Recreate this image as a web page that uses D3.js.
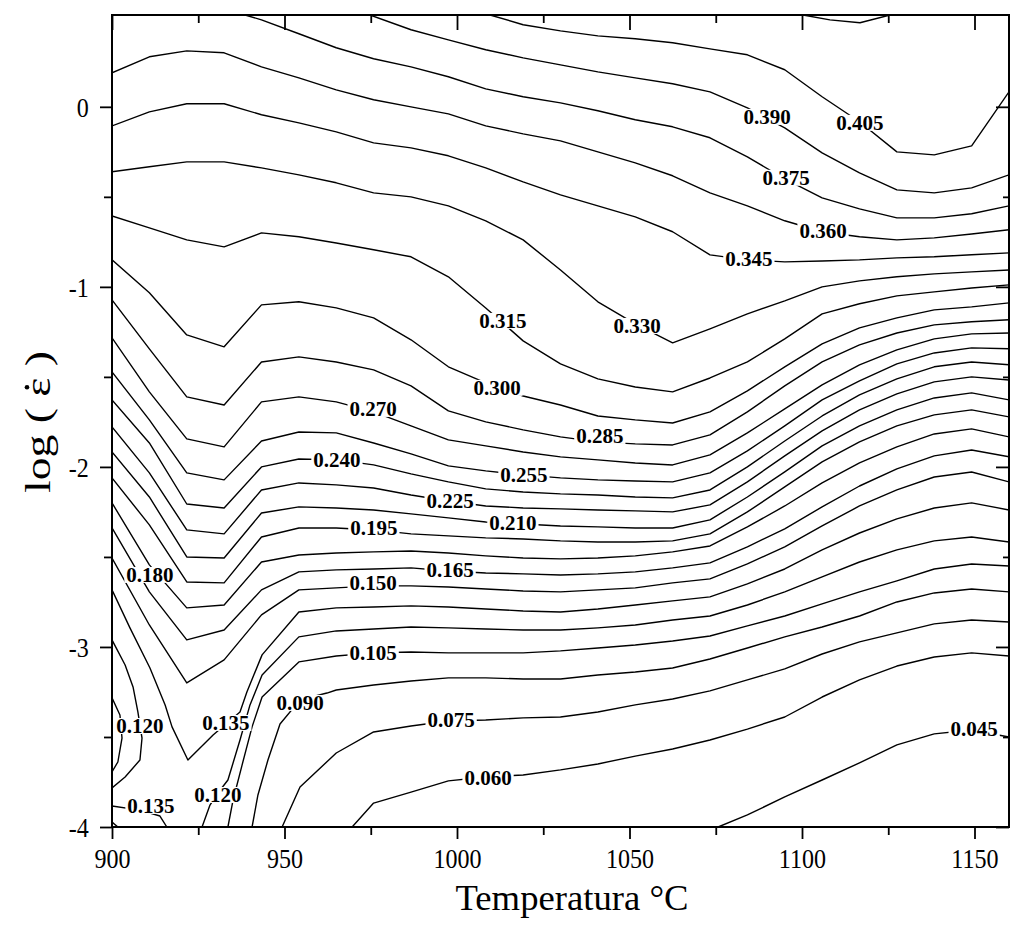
<!DOCTYPE html>
<html>
<head>
<meta charset="utf-8">
<script src="https://cdn.jsdelivr.net/npm/d3@7"></script>
<style>
  html, body { margin: 0; padding: 0; background: #fff; }
  svg { display: block; }
  text { font-family: "Liberation Serif", "Times New Roman", serif; fill: #000; }
</style>
</head>
<body>
<svg id="chart" width="1013" height="930"></svg>
<script>
// Temperature grid (°C) on which the iso-lines are sampled
const T = [900, 910.83, 921.67, 932.5, 943.33, 954.17, 965, 975.83, 986.67, 997.5,
  1008.33, 1019.17, 1030, 1040.83, 1051.67, 1062.5, 1073.33, 1084.17, 1095, 1105.83,
  1116.67, 1127.5, 1138.33, 1149.17, 1160];

// log(strain rate) of each iso-line at the grid temperatures
const lv360 = [0.189, 0.278, 0.311, 0.300, 0.222, 0.161, 0.094, 0.039, 0, -0.039, -0.106, -0.150, -0.189, -0.250, -0.311, -0.383, -0.478, -0.550, -0.633, -0.694, -0.722, -0.739, -0.728, -0.706, -0.683];
const lv345 = [-0.106, -0.028, 0.017, 0.017, -0.044, -0.089, -0.139, -0.200, -0.228, -0.272, -0.339, -0.417, -0.489, -0.550, -0.611, -0.694, -0.822, -0.850, -0.861, -0.856, -0.850, -0.839, -0.833, -0.822, -0.811];
const lv330 = [-0.361, -0.333, -0.306, -0.306, -0.339, -0.378, -0.422, -0.478, -0.500, -0.550, -0.633, -0.739, -0.906, -1.083, -1.206, -1.311, -1.233, -1.150, -1.078, -1.000, -0.967, -0.944, -0.928, -0.917, -0.906];
const lv315 = [-0.606, -0.672, -0.739, -0.778, -0.700, -0.722, -0.756, -0.794, -0.833, -0.944, -1.117, -1.300, -1.428, -1.511, -1.556, -1.583, -1.506, -1.417, -1.289, -1.150, -1.094, -1.050, -1.028, -1.006, -0.989];
const lv300 = [-0.850, -1.033, -1.267, -1.333, -1.100, -1.083, -1.117, -1.172, -1.294, -1.444, -1.533, -1.606, -1.656, -1.717, -1.739, -1.756, -1.694, -1.578, -1.444, -1.317, -1.228, -1.172, -1.128, -1.111, -1.089];
const lv285 = [-1.072, -1.344, -1.611, -1.656, -1.417, -1.389, -1.417, -1.461, -1.550, -1.689, -1.750, -1.794, -1.833, -1.861, -1.872, -1.878, -1.822, -1.694, -1.550, -1.417, -1.322, -1.256, -1.211, -1.194, -1.183];
const lv270 = [-1.283, -1.583, -1.844, -1.889, -1.639, -1.611, -1.639, -1.694, -1.772, -1.850, -1.883, -1.917, -1.944, -1.961, -1.978, -1.989, -1.933, -1.811, -1.678, -1.544, -1.433, -1.350, -1.289, -1.261, -1.256];
const lv255 = [-1.472, -1.739, -2.033, -2.072, -1.856, -1.806, -1.811, -1.867, -1.928, -1.994, -2.022, -2.044, -2.061, -2.072, -2.078, -2.083, -2.033, -1.911, -1.772, -1.628, -1.522, -1.428, -1.367, -1.339, -1.344];
const lv240 = [-1.628, -1.867, -2.206, -2.228, -2.000, -1.956, -1.961, -1.989, -2.039, -2.083, -2.122, -2.139, -2.150, -2.156, -2.167, -2.172, -2.128, -2.000, -1.856, -1.717, -1.600, -1.511, -1.444, -1.417, -1.433];
const lv225 = [-1.778, -2.033, -2.350, -2.372, -2.128, -2.089, -2.100, -2.117, -2.156, -2.189, -2.217, -2.228, -2.233, -2.239, -2.244, -2.250, -2.211, -2.083, -1.939, -1.800, -1.683, -1.594, -1.528, -1.500, -1.517];
const lv210 = [-1.917, -2.167, -2.500, -2.506, -2.256, -2.222, -2.228, -2.239, -2.261, -2.283, -2.306, -2.317, -2.328, -2.333, -2.339, -2.339, -2.294, -2.167, -2.028, -1.883, -1.772, -1.683, -1.617, -1.589, -1.628];
const lv195 = [-2.061, -2.322, -2.639, -2.644, -2.389, -2.339, -2.339, -2.350, -2.372, -2.383, -2.394, -2.400, -2.411, -2.417, -2.417, -2.411, -2.372, -2.250, -2.111, -1.972, -1.861, -1.772, -1.711, -1.683, -1.722];
const lv180 = [-2.200, -2.544, -2.783, -2.767, -2.528, -2.489, -2.478, -2.472, -2.467, -2.478, -2.494, -2.506, -2.511, -2.506, -2.494, -2.472, -2.439, -2.333, -2.217, -2.089, -1.978, -1.889, -1.817, -1.789, -1.833];
const lv165 = [-2.339, -2.694, -2.961, -2.906, -2.683, -2.583, -2.572, -2.567, -2.561, -2.578, -2.589, -2.594, -2.600, -2.594, -2.583, -2.561, -2.533, -2.444, -2.344, -2.222, -2.106, -2.011, -1.939, -1.906, -1.944];
const lv150 = [-2.506, -2.878, -3.200, -3.072, -2.822, -2.683, -2.672, -2.661, -2.661, -2.667, -2.678, -2.689, -2.694, -2.683, -2.672, -2.644, -2.622, -2.539, -2.444, -2.328, -2.217, -2.128, -2.056, -2.028, -2.083];

// Lines that start on the top edge: entry point, then grid values from a given column
const lv420Pts = [[1100.3, 0.51], [1108.1, 0.483], [1116.8, 0.467], [1125.5, 0.51]];
const lv405Head = [[1009.6, 0.51]];
const lv405 = [0.456, 0.422, 0.394, 0.378, 0.356, 0.322, 0.289, 0.206, 0.056, -0.083, -0.250, -0.267, -0.217, 0.083];
const lv390Head = [[974.8, 0.51]];
const lv390 = [0.428, 0.372, 0.317, 0.272, 0.233, 0.194, 0.161, 0.128, 0.083, -0.006, -0.117, -0.256, -0.367, -0.461, -0.478, -0.450, -0.378];
const lv375Head = [[938.6, 0.51]];
const lv375 = [0.483, 0.406, 0.328, 0.267, 0.222, 0.167, 0.100, 0.056, 0.022, -0.022, -0.072, -0.111, -0.172, -0.278, -0.400, -0.506, -0.567, -0.617, -0.617, -0.594, -0.550];

// Lower-left lines: free vertices, then grid values from a given column
const lv135Head = [[900, -2.683], [905.2, -2.894], [911.0, -3.117], [915.4, -3.322], [917.4, -3.444], [922.0, -3.628], [929.3, -3.489], [937.1, -3.361], [939.1, -3.250], [943.5, -3.044], [954.17, -2.806]];
const lv135 = [-2.783, -2.778, -2.772, -2.778, -2.789, -2.800, -2.806, -2.789, -2.767, -2.744, -2.722, -2.650, -2.567, -2.461, -2.367, -2.289, -2.228, -2.200, -2.239];
const lv120Head = [[926.1, -4.0], [928.4, -3.878], [930.7, -3.811], [933.6, -3.739], [937.1, -3.517], [940.0, -3.322], [943.5, -3.156], [954.17, -2.944]];
const lv120 = [-2.911, -2.900, -2.889, -2.894, -2.900, -2.906, -2.906, -2.894, -2.878, -2.850, -2.828, -2.767, -2.694, -2.611, -2.528, -2.461, -2.411, -2.389, -2.417];
const lv105Head = [[933.6, -4.0], [935.1, -3.850], [937.7, -3.656], [940.6, -3.444], [943.5, -3.278], [954.17, -3.083]];
const lv105 = [-3.050, -3.033, -3.028, -3.033, -3.033, -3.033, -3.022, -3.006, -2.989, -2.967, -2.939, -2.883, -2.828, -2.761, -2.694, -2.633, -2.567, -2.539, -2.550];
const lv090Head = [[940.6, -4.0], [942.3, -3.822], [945.2, -3.628], [948.7, -3.428], [954.5, -3.294], [962.3, -3.256], [965, -3.239]];
const lv090 = [-3.211, -3.189, -3.172, -3.172, -3.178, -3.178, -3.156, -3.139, -3.117, -3.067, -3.006, -2.944, -2.889, -2.828, -2.750, -2.700, -2.678, -2.694];
const lv075Head = [[949.3, -4.0], [954.5, -3.778], [965, -3.589], [975.83, -3.472]];
const lv075 = [-3.439, -3.411, -3.406, -3.394, -3.389, -3.361, -3.322, -3.289, -3.244, -3.183, -3.122, -3.039, -2.972, -2.922, -2.872, -2.850, -2.861];
const lv060Head = [[969.6, -4.0], [975.83, -3.867]];
const lv060 = [-3.806, -3.744, -3.722, -3.711, -3.683, -3.650, -3.606, -3.567, -3.517, -3.456, -3.389, -3.278, -3.183, -3.106, -3.056, -3.033, -3.050];
const lv045Head = [[1075.7, -4.0]];
const lv045 = [-3.933, -3.833, -3.739, -3.644, -3.544, -3.483, -3.461, -3.500];

// Small closed pieces against the left edge and the lower-left corner
const lv120LoopPts = [[900, -2.961], [903.8, -3.100], [906.1, -3.222], [907.5, -3.361], [908.7, -3.506], [908.1, -3.628], [903.8, -3.722], [900, -3.783]];
const lv105LoopPts = [[900, -3.283], [902.3, -3.378], [902.9, -3.506], [901.7, -3.639], [900, -3.694]];
const lv135CornerPts = [[900, -3.883], [908.1, -3.906], [913.9, -3.939], [915.9, -4.0]];
const lv150CornerPts = [[900, -3.972], [901.7, -4.0]];

// In-line contour labels
const labelLevels = [0.405, 0.390, 0.375, 0.360, 0.345, 0.330, 0.315, 0.300, 0.285, 0.270, 0.255, 0.240, 0.225, 0.210, 0.195, 0.180, 0.165, 0.150, 0.135, 0.120, 0.120, 0.135, 0.105, 0.090, 0.075, 0.060, 0.045];
const labelT = [1116.8, 1089.9, 1095.4, 1106.1, 1084.6, 1052.2, 1013.3, 1011.6, 1041.4, 975.7, 1019.4, 965.2, 998.0, 1016.2, 975.9, 911.0, 998.0, 975.7, 933.0, 908.1, 930.7, 911.3, 975.7, 954.5, 998.3, 1009.0, 1149.9];
const labelLog = [-0.089, -0.056, -0.394, -0.689, -0.844, -1.217, -1.189, -1.561, -1.828, -1.678, -2.044, -1.961, -2.189, -2.311, -2.339, -2.600, -2.572, -2.644, -3.422, -3.439, -3.822, -3.883, -3.033, -3.311, -3.406, -3.728, -3.456];

// Axis ticks
const xMajor = [900, 950, 1000, 1050, 1100, 1150];
const xMinor = [925, 975, 1025, 1075, 1125];
const yMajor = [-4, -3, -2, -1, 0];
const yMinor = [-3.5, -2.5, -1.5, -0.5];

// ---------------------------------------------------------------
const cols = (from, vals) => vals.map((v, i) => [T[from + i], v]);
const contours = [
  { level: 0.420, pts: lv420Pts },
  { level: 0.405, pts: lv405Head.concat(cols(11, lv405)) },
  { level: 0.390, pts: lv390Head.concat(cols(8, lv390)) },
  { level: 0.375, pts: lv375Head.concat(cols(4, lv375)) },
  { level: 0.360, pts: cols(0, lv360) },
  { level: 0.345, pts: cols(0, lv345) },
  { level: 0.330, pts: cols(0, lv330) },
  { level: 0.315, pts: cols(0, lv315) },
  { level: 0.300, pts: cols(0, lv300) },
  { level: 0.285, pts: cols(0, lv285) },
  { level: 0.270, pts: cols(0, lv270) },
  { level: 0.255, pts: cols(0, lv255) },
  { level: 0.240, pts: cols(0, lv240) },
  { level: 0.225, pts: cols(0, lv225) },
  { level: 0.210, pts: cols(0, lv210) },
  { level: 0.195, pts: cols(0, lv195) },
  { level: 0.180, pts: cols(0, lv180) },
  { level: 0.165, pts: cols(0, lv165) },
  { level: 0.150, pts: cols(0, lv150) },
  { level: 0.135, pts: lv135Head.concat(cols(6, lv135)) },
  { level: 0.120, pts: lv120Head.concat(cols(6, lv120)) },
  { level: 0.105, pts: lv105Head.concat(cols(6, lv105)) },
  { level: 0.090, pts: lv090Head.concat(cols(7, lv090)) },
  { level: 0.075, pts: lv075Head.concat(cols(8, lv075)) },
  { level: 0.060, pts: lv060Head.concat(cols(8, lv060)) },
  { level: 0.045, pts: lv045Head.concat(cols(17, lv045)) },
  { level: 0.120, pts: lv120LoopPts },
  { level: 0.105, pts: lv105LoopPts },
  { level: 0.135, pts: lv135CornerPts },
  { level: 0.150, pts: lv150CornerPts }
];

const plotL = 112, plotR = 1009, plotT = 15, plotB = 827;
const x = d3.scaleLinear().domain([900, 1160]).range([plotL, plotR]);
const y = d3.scaleLinear().domain([-4, 0.51]).range([plotB, plotT]);

const svg = d3.select('#chart');
svg.append('rect').attr('width', 1013).attr('height', 930).attr('fill', '#fff');

svg.append('clipPath').attr('id', 'plotClip')
  .append('rect').attr('x', plotL).attr('y', plotT)
  .attr('width', plotR - plotL).attr('height', plotB - plotT);

// Iso-lines
const line = d3.line().x(d => x(d[0])).y(d => y(d[1]));
svg.append('g').attr('clip-path', 'url(#plotClip)')
  .selectAll('path').data(contours).join('path')
  .attr('d', d => line(d.pts))
  .attr('fill', 'none')
  .attr('stroke', '#000')
  .attr('stroke-width', 1.4)
  .attr('stroke-linejoin', 'round');

// Labels with a white knockout behind them
const fmt = d3.format('.3f');
const lab = svg.append('g');
labelLevels.forEach((lv, i) => {
  const g = lab.append('g');
  const t = g.append('text')
    .attr('x', x(labelT[i])).attr('y', y(labelLog[i]))
    .attr('dy', '0.35em')
    .attr('text-anchor', 'middle')
    .attr('font-size', 21)
    .attr('font-weight', 'bold')
    .text(fmt(lv));
  const b = t.node().getBBox();
  g.insert('rect', 'text')
    .attr('x', b.x - 2).attr('y', y(labelLog[i]) - 8)
    .attr('width', b.width + 4).attr('height', 16)
    .attr('fill', '#fff');
});

// Axes
const styleAxis = sel => {
  sel.select('.domain').remove();
  sel.selectAll('line').attr('stroke', '#000').attr('stroke-width', 1.8);
};
const tickFont = sel => sel.selectAll('text')
  .attr('font-size', 28)
  .attr('font-family', '"Liberation Serif", "Times New Roman", serif')
  .attr('fill', '#000');

svg.append('g').attr('transform', `translate(0,${plotB})`)
  .call(d3.axisBottom(x).tickValues(xMajor).tickSize(12).tickFormat(d3.format('d')))
  .call(styleAxis).call(tickFont)
  .call(s => s.selectAll('text').attr('y', 41).attr('dy', null).attr('transform', 'scale(0.86,1)'));
svg.append('g').attr('transform', `translate(0,${plotB})`)
  .call(d3.axisBottom(x).tickValues(xMinor).tickSize(8).tickFormat(''))
  .call(styleAxis);

svg.append('g').attr('transform', `translate(0,${plotT})`)
  .call(d3.axisTop(x).tickValues(xMajor).tickSize(-15).tickFormat(''))
  .call(styleAxis);
svg.append('g').attr('transform', `translate(0,${plotT})`)
  .call(d3.axisTop(x).tickValues(xMinor).tickSize(-8).tickFormat(''))
  .call(styleAxis);

svg.append('g').attr('transform', `translate(${plotL},0)`)
  .call(d3.axisLeft(y).tickValues(yMajor).tickSize(12).tickFormat(d => String(d)))
  .call(styleAxis).call(tickFont)
  .call(s => s.selectAll('text').attr('x', -27).attr('dy', '0.34em').attr('transform', 'scale(0.86,1)'));
svg.append('g').attr('transform', `translate(${plotL},0)`)
  .call(d3.axisLeft(y).tickValues(yMinor).tickSize(8).tickFormat(''))
  .call(styleAxis);

svg.append('g').attr('transform', `translate(${plotR},0)`)
  .call(d3.axisRight(y).tickValues(yMajor).tickSize(-13).tickFormat(''))
  .call(styleAxis);
svg.append('g').attr('transform', `translate(${plotR},0)`)
  .call(d3.axisRight(y).tickValues(yMinor).tickSize(-6).tickFormat(''))
  .call(styleAxis);

// Frame
svg.append('rect')
  .attr('x', plotL).attr('y', plotT)
  .attr('width', plotR - plotL).attr('height', plotB - plotT)
  .attr('fill', 'none').attr('stroke', '#000').attr('stroke-width', 2);

// Axis titles
svg.append('text')
  .attr('x', 572).attr('y', 910)
  .attr('text-anchor', 'middle')
  .attr('font-size', 36)
  .attr('textLength', 233).attr('lengthAdjust', 'spacingAndGlyphs')
  .text('Temperatura °C');

// Vertical title: epsilon with an overdot for the strain rate
const yTitle = svg.append('g').attr('transform', 'translate(50,422) rotate(-90)');
const yTxt = yTitle.append('text')
  .attr('text-anchor', 'middle')
  .attr('font-size', 36)
  .attr('textLength', 142).attr('lengthAdjust', 'spacingAndGlyphs')
  .text('log ( \u03B5 )');
const eps = yTxt.node().getExtentOfChar(6);
yTitle.append('circle')
  .attr('cx', eps.x + eps.width / 2)
  .attr('cy', -23)
  .attr('r', 2.3)
  .attr('fill', '#000');
</script>
</body>
</html>
